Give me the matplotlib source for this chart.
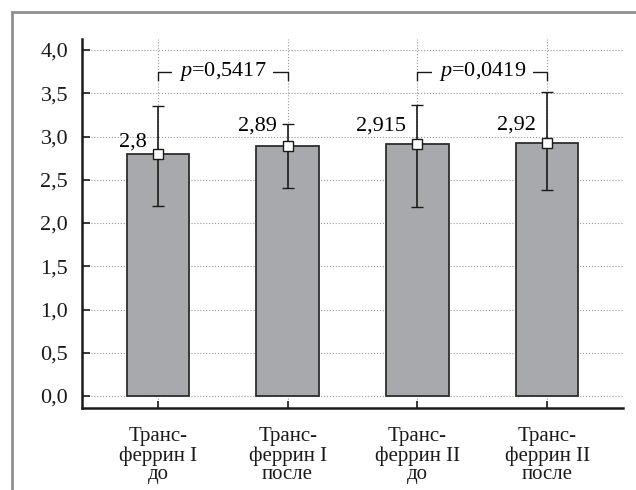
import matplotlib
matplotlib.use("Agg")
import matplotlib.pyplot as plt
import numpy as np
from matplotlib.patches import Rectangle

plt.rcParams['font.family'] = ['Liberation Serif', 'DejaVu Serif']
plt.rcParams['mathtext.fontset'] = 'custom'
plt.rcParams['mathtext.rm'] = 'Liberation Serif'
plt.rcParams['mathtext.it'] = 'Liberation Serif:italic'

# transferrin groups, means and whisker ends
groups = ["Транс-\nферрин I\nдо", "Транс-\nферрин I\nпосле",
          "Транс-\nферрин II\nдо", "Транс-\nферрин II\nпосле"]
means = [2.8, 2.89, 2.915, 2.92]
mean_labels = ["2,8", "2,89", "2,915", "2,92"]
err_low = [2.20, 2.41, 2.18, 2.38]
err_high = [3.35, 3.15, 3.36, 3.51]
p_pairs = [(0, 1), (2, 3)]
p_values = ["0,5417", "0,0419"]

yticks = [0.0, 0.5, 1.0, 1.5, 2.0, 2.5, 3.0, 3.5, 4.0]
ytick_labels = [f"{v:.1f}".replace(".", ",") for v in yticks]

fs = 16
fig = plt.figure(figsize=(6.36, 4.9), dpi=100)
ax = fig.add_axes([0.1289, 0.1673, 0.8507, 0.753])

# grey frame around the figure
fig.patches.append(Rectangle((12 / 636, -0.1), 1.2, (478 / 490) + 0.1,
                             transform=fig.transFigure, fill=False,
                             edgecolor="#8e8e8e", linewidth=2.0))

x = np.arange(len(means))
ax.bar(x, means, width=0.48, color="#a8a9ac", edgecolor="#2e2e2e",
       linewidth=1.3, zorder=3)

means_arr = np.array(means)
yerr = [means_arr - np.array(err_low), np.array(err_high) - means_arr]
ax.errorbar(x, means, yerr=yerr, fmt="s", color="#1a1a1a", ecolor="#1a1a1a",
            elinewidth=1.2, capsize=4, capthick=1.5, markersize=7,
            markerfacecolor="white", markeredgecolor="#1a1a1a",
            markeredgewidth=1.0, zorder=4)

# value labels to the left of each whisker
label_dy = [0.14, 0.23, 0.21, 0.21]
for xi, m, lab, dy in zip(x, means, mean_labels, label_dy):
    ax.annotate(lab, (xi, m + dy), xytext=(-8, 0), textcoords="offset points",
                ha="right", va="center", fontsize=fs, zorder=5)

# significance brackets
yb, leg = 3.75, 0.1
for (a, b), pv in zip(p_pairs, p_values):
    ax.plot([a, a, b, b], [yb - leg, yb, yb, yb - leg], color="#1a1a1a",
            linewidth=1.0, zorder=4)
    ax.text((a + b) / 2, yb, r"$p$=" + pv, ha="center", va="center",
            fontsize=fs, zorder=5,
            bbox=dict(facecolor="white", edgecolor="none", pad=5))

ax.set_xlim(-0.585, 3.585)
ax.set_ylim(-0.139, 4.127)
ax.set_yticks(yticks)
ax.set_yticklabels(ytick_labels, fontsize=fs)
ax.set_xticks(x)
ax.set_xticklabels(groups, fontsize=15, linespacing=0.98)

ax.grid(True, linestyle=":", color="#9a9a9a", linewidth=0.8, zorder=0)
ax.set_axisbelow(True)

for side in ["top", "right"]:
    ax.spines[side].set_visible(False)
for side in ["left", "bottom"]:
    ax.spines[side].set_linewidth(1.8)
    ax.spines[side].set_color("#1a1a1a")

ax.tick_params(axis="y", direction="in", length=6, width=1.2, pad=10,
               colors="#1a1a1a")
ax.tick_params(axis="x", direction="in", length=5, width=1.2, pad=14,
               colors="#1a1a1a")

fig.savefig("out.png", dpi=100)
